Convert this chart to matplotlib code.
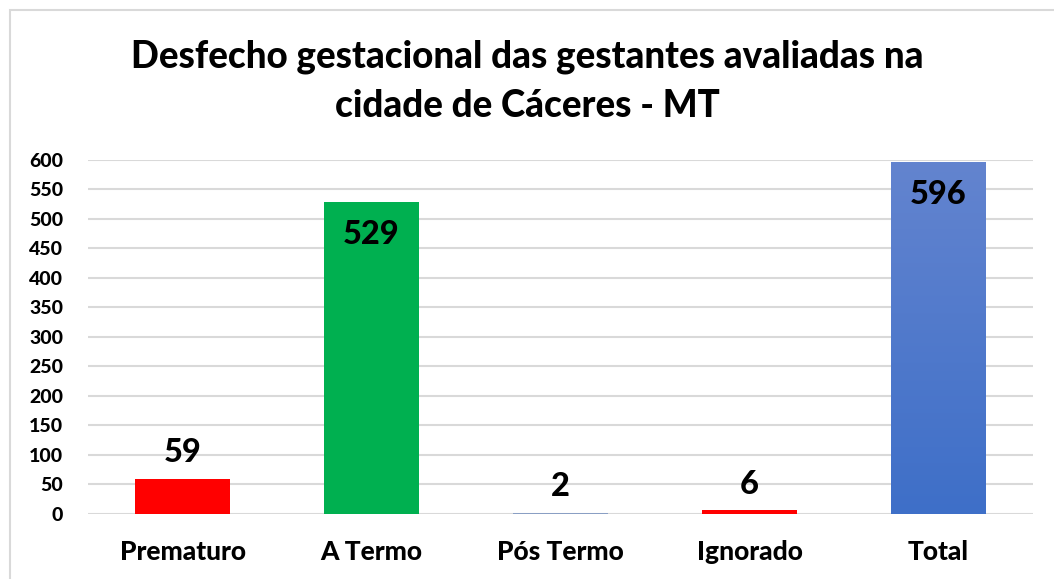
import matplotlib.pyplot as plt
import matplotlib.colors as mcolors
import numpy as np
from matplotlib.patches import Rectangle

categories = ['Prematuro', 'A Termo', 'Pós Termo', 'Ignorado', 'Total']
values = [59, 529, 2, 6, 596]
colors = ['#FF0000', '#00B050', '#8A9FC4', '#FF0000', '#4472C4']
# labels drawn inside the bar top for the tall ones
inside = [False, True, False, False, True]
yticks = list(range(0, 601, 50))

plt.rcParams['font.family'] = ['Lato', 'DejaVu Sans']
W = 900

fig = plt.figure(figsize=(10.54, 5.79), dpi=100)
ax = fig.add_axes([0.0835, 0.1123, 0.8965, 0.6114])

# light frame around the chart area
fig.patches.append(Rectangle((0.0095, -0.05), 1.1, 1.05 - 0.0173, transform=fig.transFigure,
                             fill=False, edgecolor='#D9D9D9', linewidth=1.5))

x_pos = np.arange(len(categories))
bars = ax.bar(x_pos, values, width=0.5, color=colors, zorder=3)

# gradient fill for the Total bar
tb = bars[-1]
grad = np.linspace(0, 1, 256).reshape(-1, 1)
cmap = mcolors.LinearSegmentedColormap.from_list('g', ['#3E6FC8', '#6384CF'])
tb.set_facecolor('none')
ax.imshow(grad, cmap=cmap, aspect='auto', origin='lower', zorder=3,
          extent=(tb.get_x(), tb.get_x() + tb.get_width(), 0, tb.get_height()))

# dark base line under the bars (not under the tiny Pós Termo one)
for i, b in enumerate(bars):
    if i == 2:
        continue
    ax.plot([b.get_x(), b.get_x() + b.get_width()], [-1.5, -1.5], color='#595959',
            linewidth=1.2, zorder=4, solid_capstyle='butt')

for i, v in enumerate(values):
    if inside[i]:
        ax.text(i, v - 30, str(v), ha='center', va='top', fontsize=23.5, fontweight=W, zorder=5)
    else:
        ax.text(i, v + 20, str(v), ha='center', va='bottom', fontsize=23.5, fontweight=W, zorder=5)

ax.set_xlim(-0.5, 4.5)
ax.set_ylim(0, 600)
ax.set_yticks(yticks)
ax.set_xticks(x_pos)
ax.set_xticklabels(categories, fontsize=19, fontweight=W)
for t in ax.get_yticklabels():
    t.set_fontsize(14)
    t.set_fontweight(W)
ax.tick_params(length=0)
ax.tick_params(axis='y', pad=18)
ax.tick_params(axis='x', pad=19)
ax.grid(axis='y', color='#D9D9D9', linewidth=1.5, zorder=0)
for s in ax.spines.values():
    s.set_visible(False)

fig.text(0.5, 0.860, 'Desfecho gestacional das gestantes avaliadas na\ncidade de Cáceres - MT',
         ha='center', va='center', fontsize=26.5, fontweight=W, linespacing=1.55)

fig.savefig('out.png', dpi=100)
